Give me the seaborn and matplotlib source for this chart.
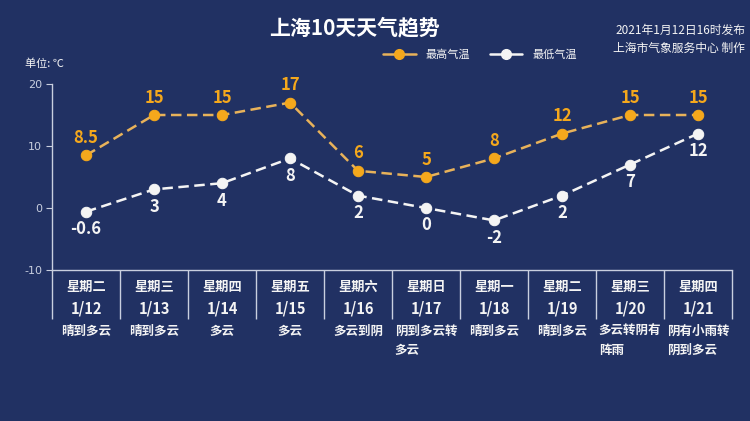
import matplotlib
matplotlib.use("Agg")
import matplotlib.pyplot as plt
import seaborn as sns
import numpy as np
import pandas as pd
from matplotlib.lines import Line2D

weekdays = ["星期二", "星期三", "星期四", "星期五", "星期六", "星期日", "星期一", "星期二", "星期三", "星期四"]
dates = ["1/12", "1/13", "1/14", "1/15", "1/16", "1/17", "1/18", "1/19", "1/20", "1/21"]
weather = ["晴到多云", "晴到多云", "多云", "多云", "多云到阴", "阴到多云转\n多云", "晴到多云", "晴到多云", "多云转阴有\n阵雨", "阴有小雨转\n阴到多云"]
high = [8.5, 15, 15, 17, 6, 5, 8, 12, 15, 15]
low = [-0.6, 3, 4, 8, 2, 0, -2, 2, 7, 12]
high_labels = ["8.5", "15", "15", "17", "6", "5", "8", "12", "15", "15"]
low_labels = ["-0.6", "3", "4", "8", "2", "0", "-2", "2", "7", "12"]
yticks = [-10, 0, 10, 20]

BG = "#213163"
ORANGE = "#f5a81c"
ORANGE_LINE = "#e8b25a"
WHITE = "#f4f4f4"
GRID = "#c9cfdf"

sns.set_theme(style="white")
plt.rcParams["font.family"] = ["Noto Sans CJK SC", "DejaVu Sans"]

fig = plt.figure(figsize=(7.5, 4.21), dpi=100, facecolor=BG)
W, H = 750, 421
x0, x1 = 52, 732
y_top, y_bot = 84, 270
ax = fig.add_axes([x0 / W, 1 - y_bot / H, (x1 - x0) / W, (y_bot - y_top) / H])
ax.set_facecolor(BG)

xs = np.arange(len(high)) + 0.5
df = pd.DataFrame({"x": np.concatenate([xs, xs]),
                   "t": high + low,
                   "s": ["最高气温"] * len(high) + ["最低气温"] * len(low)})

MS = 7.5
sns.lineplot(data=df[df.s == "最高气温"], x="x", y="t", ax=ax, color=ORANGE_LINE,
             linestyle=(0, (4.2, 2.2)), linewidth=1.8, marker="o", markersize=MS,
             markerfacecolor=ORANGE, markeredgecolor=ORANGE, legend=False)
sns.lineplot(data=df[df.s == "最低气温"], x="x", y="t", ax=ax, color=WHITE,
             linestyle=(0, (4.2, 2.2)), linewidth=1.8, marker="o", markersize=MS,
             markerfacecolor=WHITE, markeredgecolor=WHITE, legend=False)

for xi, v, lab in zip(xs, high, high_labels):
    ax.annotate(lab, (xi, v), xytext=(0, 6), textcoords="offset points", ha="center", va="bottom",
                color=ORANGE, fontsize=12, fontweight="bold")
for xi, v, lab in zip(xs, low, low_labels):
    ax.annotate(lab, (xi, v), xytext=(0, -6), textcoords="offset points", ha="center", va="top",
                color=WHITE, fontsize=12, fontweight="bold")

ax.set_xlim(0, len(high))
ax.set_ylim(-10, 20)
ax.set_yticks(yticks)
ax.set_yticklabels([str(t) for t in yticks], color=GRID, fontsize=8, family=["DejaVu Sans"])
ax.set_xticks([])
ax.set_xlabel("")
ax.set_ylabel("")
ax.tick_params(axis="y", direction="out", length=4, width=0.8, color=GRID, pad=3, left=True)
for s in ["top", "right"]:
    ax.spines[s].set_visible(False)
for s in ["left", "bottom"]:
    ax.spines[s].set_color(GRID)
    ax.spines[s].set_linewidth(1.0)

# table under the axis
trans = ax.get_xaxis_transform()
tbl_h = 49 / (y_bot - y_top)
ax.vlines(np.arange(len(high) + 1), -tbl_h, 0, transform=trans, colors=GRID, linewidth=1.0, clip_on=False)
px = 1 / (y_bot - y_top)
for xi, wd, d, w in zip(xs, weekdays, dates, weather):
    ax.text(xi, -17 * px, wd, transform=trans, ha="center", va="center", color=WHITE,
            fontsize=9.5, fontweight="bold")
    ax.text(xi, -38 * px, d, transform=trans, ha="center", va="center", color=WHITE,
            fontsize=10.5, fontweight="bold")
    ax.text(xi, -55 * px, w, transform=trans, ha="center", va="top", color=WHITE,
            fontsize=9, fontweight="bold", multialignment="left", linespacing=1.6)

# titles and notes
fig.text(354 / W, 1 - 28 / H, "上海10天天气趋势", ha="center", va="center", color="white",
         fontsize=15, fontweight="bold")
fig.text(745 / W, 1 - 30 / H, "2021年1月12日16时发布", ha="right", va="center", color=WHITE, fontsize=8.5)
fig.text(745 / W, 1 - 48 / H, "上海市气象服务中心 制作", ha="right", va="center", color=WHITE, fontsize=8.5)
fig.text(25 / W, 1 - 64 / H, "单位: ℃", ha="left", va="center", color=WHITE, fontsize=8)

# legend
handles = [Line2D([], [], color=ORANGE_LINE, linewidth=1.8, marker="o", markersize=7,
                  markerfacecolor=ORANGE, markeredgecolor=ORANGE),
           Line2D([], [], color=WHITE, linewidth=1.8, marker="o", markersize=7,
                  markerfacecolor=WHITE, markeredgecolor=WHITE)]
leg = fig.legend(handles, ["最高气温", "最低气温"], loc="center", bbox_to_anchor=(480 / W, 1 - 55 / H),
                 ncol=2, frameon=False, fontsize=8, handlelength=2.9, columnspacing=1.8,
                 handletextpad=0.9, borderpad=0, borderaxespad=0)
for t in leg.get_texts():
    t.set_color(WHITE)

fig.savefig("out.png", dpi=100, facecolor=BG)
